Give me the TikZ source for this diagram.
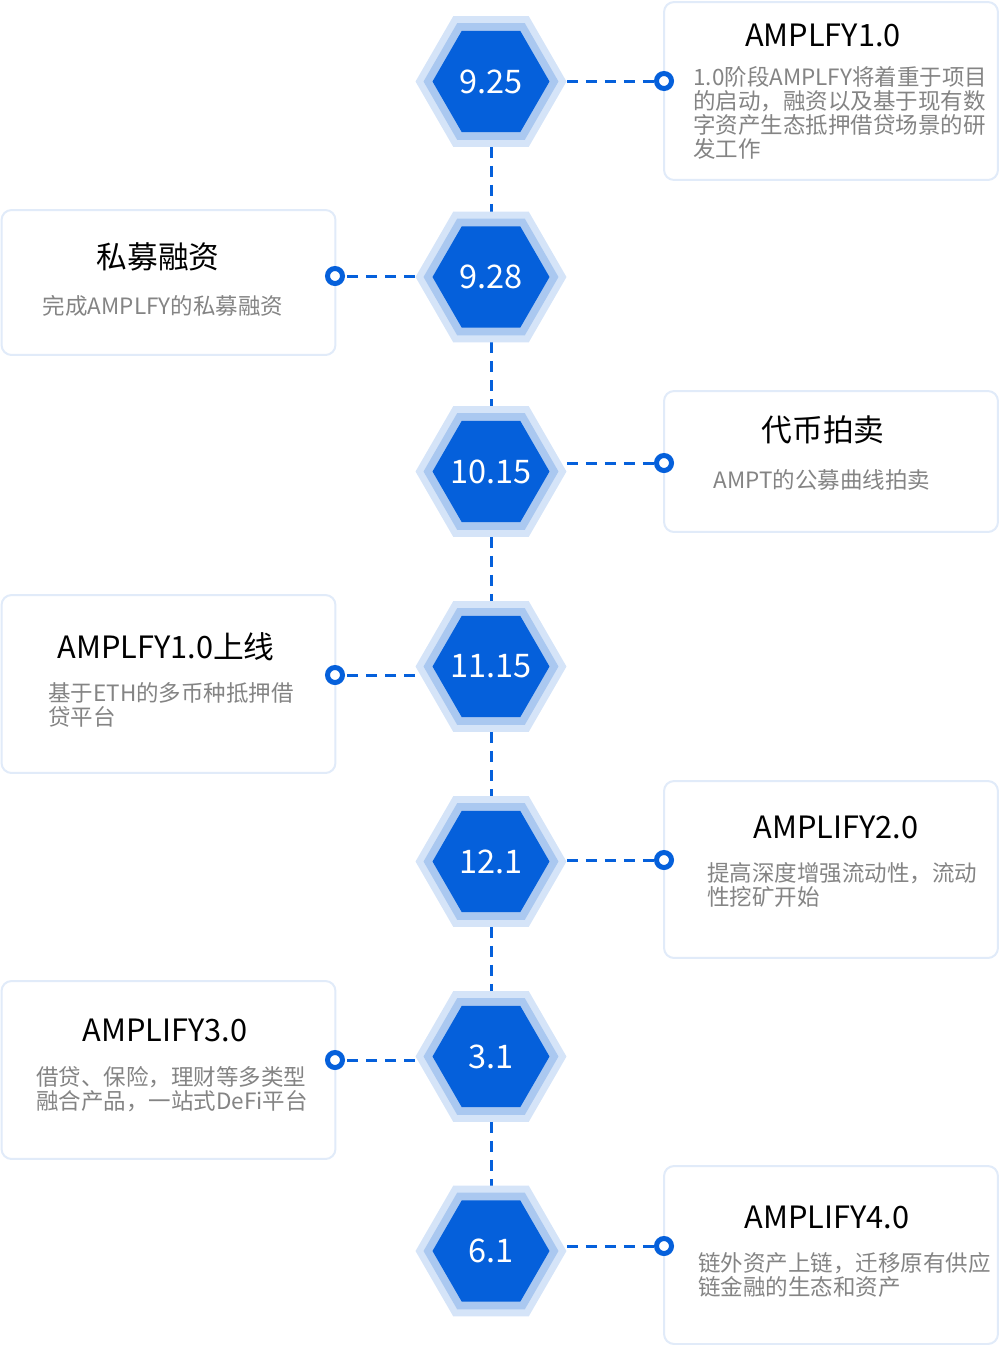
\documentclass[tikz,border=0pt]{standalone}
\usepackage{fontspec}
\setmainfont{Noto Sans CJK SC}
\usetikzlibrary{shapes.geometric, backgrounds}
\definecolor{hexlight}{HTML}{D5E4F8}
\definecolor{hexmid}{HTML}{AAC8F0}
\definecolor{hexblue}{HTML}{0560DB}
\definecolor{boxline}{HTML}{E1EBF9}
\definecolor{bodygray}{HTML}{848484}

\begin{document}
\begin{tikzpicture}[x=0.02cm, y=-0.02cm,
    hexring/.style={regular polygon, regular polygon sides=6, inner sep=0pt, outer sep=0pt, fill=hexlight, minimum size=3.02cm},
    hexmiddle/.style={regular polygon, regular polygon sides=6, inner sep=0pt, outer sep=0pt, fill=hexmid, minimum size=2.7cm},
    hexcore/.style={regular polygon, regular polygon sides=6, inner sep=0pt, outer sep=0pt, fill=hexblue, minimum size=2.34cm},
    datelabel/.style={inner sep=0pt, text=white, font=\fontsize{18.5}{20}\selectfont},
    infobox/.style={draw=boxline, line width=0.04cm, rounded corners=0.2cm, fill=white, minimum width=6.68cm, inner sep=0pt},
    boxtitle/.style={inner sep=0pt, font=\fontsize{17.5}{19}\selectfont},
    boxbody/.style={inner sep=0pt, align=left, text=bodygray, font=\fontsize{12.8}{13.6}\selectfont},
    marker/.style={circle, draw=hexblue, line width=0.1cm, fill=white, minimum size=0.3cm, inner sep=0pt},
    link/.style={hexblue, line width=0.06cm, dash pattern=on 0.22cm off 0.16cm}
]
    \useasboundingbox (0,0) rectangle (1000,1346);

    % Boxes on the right and on the left
    \node[infobox, minimum height=3.56cm] (b1) at (831,91) {};
    \node[infobox, minimum height=2.9cm] (b2) at (168.5,282.5) {};
    \node[infobox, minimum height=2.82cm] (b3) at (831,461.5) {};
    \node[infobox, minimum height=3.56cm] (b4) at (168.5,684) {};
    \node[infobox, minimum height=3.54cm] (b5) at (831,869.5) {};
    \node[infobox, minimum height=3.56cm] (b6) at (168.5,1070) {};
    \node[infobox, minimum height=3.56cm] (b7) at (831,1255) {};

    % Titles and texts of the boxes
    \node[boxtitle] (t1) at (823,35) {AMPLFY1.0};
    \node[boxbody, anchor=west] (d1) at (693,113) {1.0阶段AMPLFY将着重于项目\\的启动，融资以及基于现有数\\字资产生态抵押借贷场景的研\\发工作};
    \node[boxtitle] (t2) at (158,257) {私募融资};
    \node[boxbody] (d2) at (163,306) {完成AMPLFY的私募融资};
    \node[boxtitle] (t3) at (823,430) {代币拍卖};
    \node[boxbody] (d3) at (822,480) {AMPT的公募曲线拍卖};
    \node[boxtitle] (t4) at (166,647) {AMPLFY1.0上线};
    \node[boxbody, anchor=west] (d4) at (48,705) {基于ETH的多币种抵押借\\贷平台};
    \node[boxtitle] (t5) at (836,827) {AMPLIFY2.0};
    \node[boxbody, anchor=west] (d5) at (707,885) {提高深度增强流动性，流动\\性挖矿开始};
    \node[boxtitle] (t6) at (165,1030) {AMPLIFY3.0};
    \node[boxbody, anchor=west] (d6) at (36,1089) {借贷、保险，理财等多类型\\融合产品，一站式DeFi平台};
    \node[boxtitle] (t7) at (827,1217) {AMPLIFY4.0};
    \node[boxbody, anchor=west] (d7) at (698,1275) {链外资产上链，迁移原有供应\\链金融的生态和资产};

    % Hexagons with the dates
    \node[hexring] (hx1) at (491,81.5) {};
    \node[hexmiddle] (hm1) at (hx1) {};
    \node[hexcore] (hc1) at (hx1) {};
    \node[datelabel] (l1) at (hx1) {9.25};
    \node[hexring] (hx2) at (491,277) {};
    \node[hexmiddle] (hm2) at (hx2) {};
    \node[hexcore] (hc2) at (hx2) {};
    \node[datelabel] (l2) at (hx2) {9.28};
    \node[hexring] (hx3) at (491,471.5) {};
    \node[hexmiddle] (hm3) at (hx3) {};
    \node[hexcore] (hc3) at (hx3) {};
    \node[datelabel] (l3) at (hx3) {10.15};
    \node[hexring] (hx4) at (491,666.5) {};
    \node[hexmiddle] (hm4) at (hx4) {};
    \node[hexcore] (hc4) at (hx4) {};
    \node[datelabel] (l4) at (hx4) {11.15};
    \node[hexring] (hx5) at (491,861.5) {};
    \node[hexmiddle] (hm5) at (hx5) {};
    \node[hexcore] (hc5) at (hx5) {};
    \node[datelabel] (l5) at (hx5) {12.1};
    \node[hexring] (hx6) at (491,1056.5) {};
    \node[hexmiddle] (hm6) at (hx6) {};
    \node[hexcore] (hc6) at (hx6) {};
    \node[datelabel] (l6) at (hx6) {3.1};
    \node[hexring] (hx7) at (491,1251) {};
    \node[hexmiddle] (hm7) at (hx7) {};
    \node[hexcore] (hc7) at (hx7) {};
    \node[datelabel] (l7) at (hx7) {6.1};

    % Ring markers on the box edges
    \node[marker] (m1) at (664,81) {};
    \node[marker] (m2) at (335,276) {};
    \node[marker] (m3) at (664,463) {};
    \node[marker] (m4) at (335,675) {};
    \node[marker] (m5) at (664,860) {};
    \node[marker] (m6) at (335,1060) {};
    \node[marker] (m7) at (664,1246) {};

    % Dashed links, under the hexagons
    \begin{scope}[on background layer]
        \draw[link] (hx1) -- (hx2);
        \draw[link] (hx2) -- (hx3);
        \draw[link] (hx3) -- (hx4);
        \draw[link] (hx4) -- (hx5);
        \draw[link] (hx5) -- (hx6);
        \draw[link] (hx6) -- (hx7);
        \draw[link] (hx1.center |- m1) -- (m1);
        \draw[link] (hx2.center |- m2) -- (m2);
        \draw[link] (hx3.center |- m3) -- (m3);
        \draw[link] (hx4.center |- m4) -- (m4);
        \draw[link] (hx5.center |- m5) -- (m5);
        \draw[link] (hx6.center |- m6) -- (m6);
        \draw[link] (hx7.center |- m7) -- (m7);
    \end{scope}
\end{tikzpicture}
\end{document}
